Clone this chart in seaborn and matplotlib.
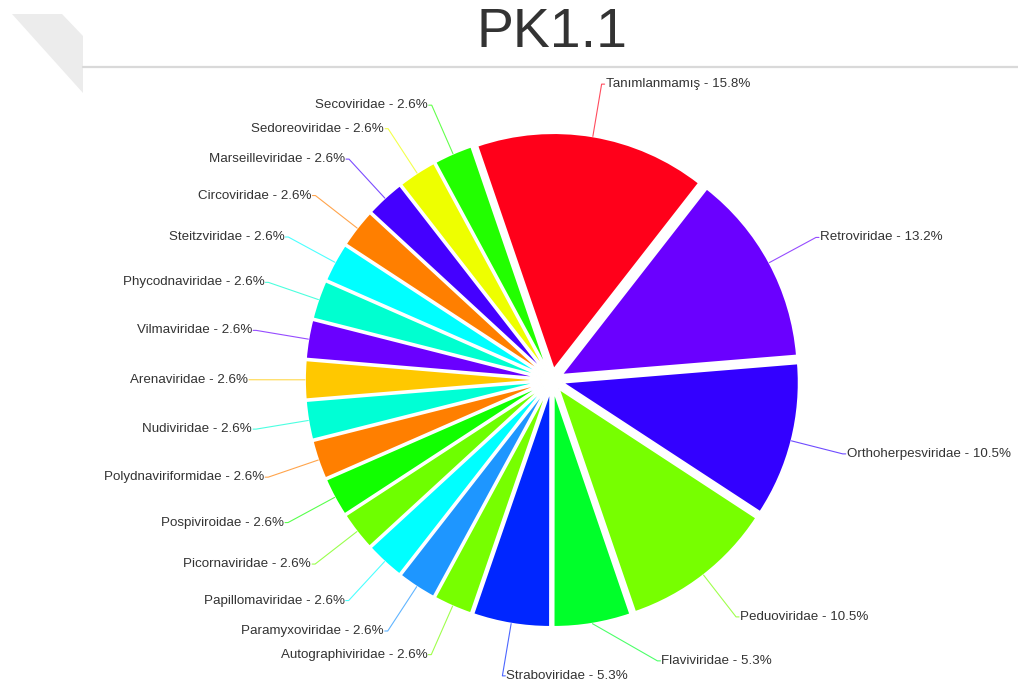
import numpy as np
import matplotlib
matplotlib.use("Agg")
import matplotlib.pyplot as plt
import seaborn as sns

# %% Data (slice counts out of 38, clockwise from the top)
families = [
    "Tanımlanmamış", "Retroviridae", "Orthoherpesviridae", "Peduoviridae",
    "Flaviviridae", "Straboviridae", "Autographiviridae", "Paramyxoviridae",
    "Papillomaviridae", "Picornaviridae", "Pospiviroidae", "Polydnaviriformidae",
    "Nudiviridae", "Arenaviridae", "Vilmaviridae", "Phycodnaviridae",
    "Steitzviridae", "Circoviridae", "Marseilleviridae", "Sedoreoviridae",
    "Secoviridae",
]
counts = [6, 5, 4, 4, 2, 2] + [1] * 15
slice_colors = [
    "#ff001a", "#6a00ff", "#3300ff", "#77ff00", "#00ff2a", "#0026ff",
    "#77ff00", "#1e96ff", "#00ffff", "#6eff00", "#11ff00", "#ff7f00",
    "#00ffd5", "#ffc800", "#6a00ff", "#00ffd0", "#00ffff", "#ff7f00",
    "#4400ff", "#eeff00", "#22ff00",
]
chart_title = "PK1.1"

# %% Style
sns.set_theme(style="white")
plt.rcParams["font.family"] = ["Liberation Sans", "DejaVu Sans"]
text_color = "#333333"

W, H = 1018, 685
fig = plt.figure(figsize=(W / 100, H / 100), dpi=100)
ax = fig.add_axes([0, 0, 1, 1])

cx, cy = 552, H - 380      # pie centre (pixels, y up)
radius = 236
shift = 11                 # every slice is pulled out a little (data units)
label_r = 300              # labels sit on this circle

wedges, _ = ax.pie(
    counts,
    colors=slice_colors,
    center=(cx, cy),
    radius=radius,
    explode=[shift] * len(counts),
    startangle=108.9,
    counterclock=False,
    wedgeprops=dict(edgecolor="white", linewidth=1.3),
)

# %% Label positions
total = sum(counts)
labels = []
for name, n, w in zip(families, counts, wedges):
    theta = np.deg2rad((w.theta1 + w.theta2) / 2)
    cw = (90 - np.rad2deg(theta)) % 360
    side = 1 if cw < 195 else -1
    labels.append(dict(
        text=f"{name} - {n / total * 100:.1f}%",
        theta=theta,
        side=side,
        x=cx + label_r * np.cos(theta),
        y=cy + label_r * np.sin(theta),
        sign=np.sign(np.cos(theta)),
        moved=False,
    ))

# push overlapping labels upward, one side at a time
min_gap = 15
for s in (1, -1):
    group = sorted([l for l in labels if l["side"] == s],
                   key=lambda l: (round(l["y"], 1), l["x"]))
    for prev, cur in zip(group, group[1:]):
        if cur["y"] - prev["y"] < min_gap:
            cur["y"] = prev["y"] + min_gap
            cur["moved"] = True
    for l in group:
        if l["moved"]:
            dy = l["y"] - cy
            l["x"] = cx + l["sign"] * np.sqrt(max(label_r ** 2 - dy ** 2, 0))

for l, col in zip(labels, slice_colors):
    ex = cx + (radius + shift) * np.cos(l["theta"])
    ey = cy + (radius + shift) * np.sin(l["theta"])
    tx = l["x"] + l["side"] * 4
    ax.plot([ex, l["x"], tx - l["side"] * 1], [ey, l["y"], l["y"]],
            color=col, lw=0.8, alpha=0.7, zorder=1)
    ax.text(tx, l["y"], l["text"], ha="left" if l["side"] > 0 else "right",
            va="center", fontsize=9.6, color=text_color)

# %% Title, rule and corner decoration
ax.text(552, H - 47, chart_title, ha="center", va="baseline",
        fontsize=40, color=text_color)
ax.plot([83, W], [H - 67, H - 67], color="#d9d9d9", lw=1.6)
ax.fill([12, 62, 83, 83], [H - 14, H - 14, H - 36, H - 93],
        color="#ececec", lw=0)

ax.set_xlim(0, W)
ax.set_ylim(0, H)
ax.set_aspect("equal")
ax.axis("off")

fig.savefig("out.png", dpi=100)
